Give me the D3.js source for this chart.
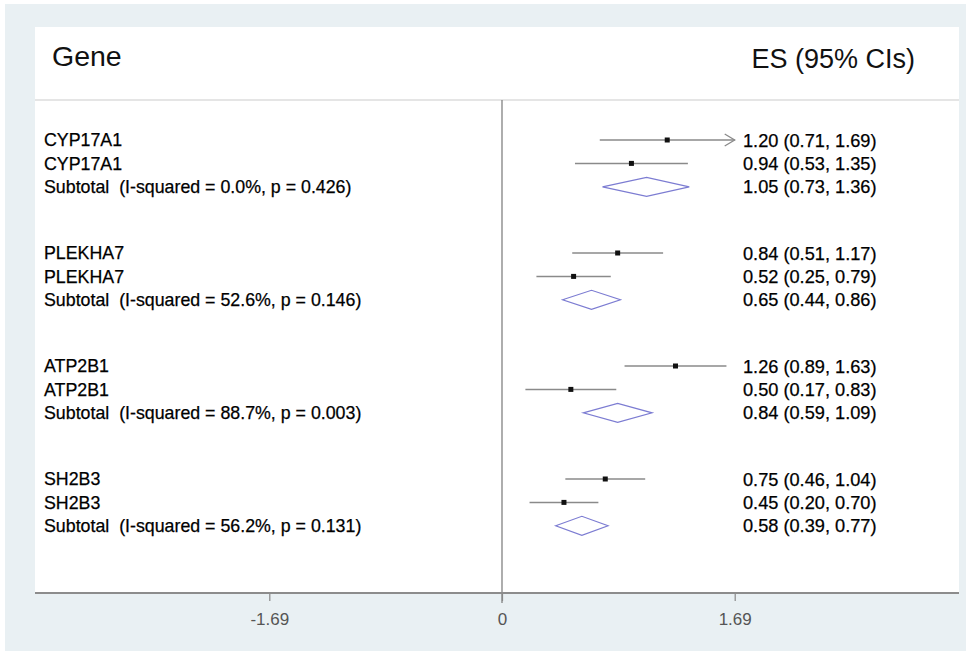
<!DOCTYPE html>
<html>
<head>
<meta charset="utf-8">
<script src="https://cdn.jsdelivr.net/npm/d3@7"></script>
<style>
  html, body { margin: 0; padding: 0; background: #ffffff; }
  svg { display: block; font-family: "Liberation Sans", Arial, sans-serif; }
</style>
</head>
<body>
<svg id="chart" width="966" height="651"></svg>
<script>
// ---------- data ----------
const genes = ["CYP17A1", "PLEKHA7", "ATP2B1", "SH2B3"];
const studyGene = ["CYP17A1", "CYP17A1", "PLEKHA7", "PLEKHA7", "ATP2B1", "ATP2B1", "SH2B3", "SH2B3"];
const studyES = [1.20, 0.94, 0.84, 0.52, 1.26, 0.50, 0.75, 0.45];
const studyLo = [0.71, 0.53, 0.51, 0.25, 0.89, 0.17, 0.46, 0.20];
const studyHi = [1.69, 1.35, 1.17, 0.79, 1.63, 0.83, 1.04, 0.70];
const subES = [1.05, 0.65, 0.84, 0.58];
const subLo = [0.73, 0.44, 0.59, 0.39];
const subHi = [1.36, 0.86, 1.09, 0.77];
const iSquared = ["0.0%", "52.6%", "88.7%", "56.2%"];
const pValues = ["0.426", "0.146", "0.003", "0.131"];
const tickValues = [-1.69, 0, 1.69];
const tickLabels = ["-1.69", "0", "1.69"];

// ---------- layout ----------
const svg = d3.select("#chart");
const W = 966, H = 651;
const panel = { x0: 35, x1: 959, y0: 27, y1: 593 };
const headerY = 100;

// outer background
svg.append("rect").attr("x", 5).attr("y", 4).attr("width", W - 5).attr("height", H - 4).attr("fill", "#e9f0f3");
svg.append("rect").attr("x", panel.x0).attr("y", panel.y0)
  .attr("width", panel.x1 - panel.x0).attr("height", panel.y1 - panel.y0).attr("fill", "#ffffff");

const x = d3.scaleLinear().domain([-1.69, 1.69]).range([269.3, 734.7]);
// row position: group index + within-group row (0,1 = studies, 2 = subtotal)
const yGroup = d3.scaleLinear().domain([0, 1]).range([140, 253]);
const rowStep = 23.4;
const yRow = (g, r) => yGroup(g) + r * rowStep;

// header
svg.append("text").attr("x", 52).attr("y", 66).attr("font-size", 28.5).attr("fill", "#111").text("Gene");
svg.append("text").attr("x", 915).attr("y", 68).attr("font-size", 27).attr("text-anchor", "end")
  .attr("fill", "#111").text("ES (95% CIs)");
svg.append("line").attr("x1", panel.x0).attr("x2", panel.x1).attr("y1", headerY).attr("y2", headerY)
  .attr("stroke", "#dcdcdc").attr("stroke-width", 1.5);

// zero line
svg.append("line").attr("x1", x(0)).attr("x2", x(0)).attr("y1", headerY).attr("y2", 603)
  .attr("stroke", "#777").attr("stroke-width", 1.2);

// axis
const axis = d3.axisBottom(x).tickValues(tickValues).tickSize(8).tickFormat((d, i) => tickLabels[i]);
const gAxis = svg.append("g").attr("transform", `translate(0,${panel.y1})`).call(axis);
gAxis.select(".domain").remove();
gAxis.selectAll(".tick line").attr("stroke", "#888").attr("stroke-width", 1.2);
gAxis.selectAll(".tick text").attr("font-size", 17).attr("fill", "#555").attr("dy", "1.25em")
  .attr("font-family", "'Liberation Sans', Arial, sans-serif");
svg.append("line").attr("x1", panel.x0).attr("x2", panel.x1).attr("y1", panel.y1).attr("y2", panel.y1)
  .attr("stroke", "#8c8c8c").attr("stroke-width", 2.2);

// ---------- rows ----------
const labelX = 44, valueX = 743;
const fs = 17.8, fsv = 18.2;
const fmt = d3.format(".2f");

// studies
const studies = studyES.map((v, i) => ({
  gene: studyGene[i], es: v, lo: studyLo[i], hi: studyHi[i],
  g: genes.indexOf(studyGene[i]), r: i % 2
}));

function label(sel, xPos, y, size, txt) {
  return sel.append("text").attr("x", xPos).attr("y", y).attr("dy", "0.36em").attr("font-size", size)
    .attr("fill", "#000").attr("stroke", "#000").attr("stroke-width", 0.25)
    .attr("xml:space", "preserve").text(txt);
}

const gS = svg.append("g");
studies.forEach(d => {
  const y = yRow(d.g, d.r);
  const truncated = d.hi >= x.domain()[1];
  gS.append("line").attr("x1", x(d.lo)).attr("x2", x(d.hi)).attr("y1", y).attr("y2", y)
    .attr("stroke", "#8a8a8a").attr("stroke-width", 1.5);
  if (truncated) {
    const xe = x(d.hi);
    gS.append("path").attr("d", `M${xe - 10},${y - 6} L${xe},${y} L${xe - 10},${y + 6}`)
      .attr("fill", "none").attr("stroke", "#8a8a8a").attr("stroke-width", 1.3);
  }
  gS.append("rect").attr("x", x(d.es) - 2.5).attr("y", y - 2.5).attr("width", 5).attr("height", 5).attr("fill", "#111");
  label(gS, labelX, y, fs, d.gene);
  label(gS, valueX, y, fsv, `${fmt(d.es)} (${fmt(d.lo)}, ${fmt(d.hi)})`);
});

// subtotals
genes.forEach((gene, g) => {
  const y = yRow(g, 2);
  const h = 9.5;
  svg.append("path")
    .attr("d", `M${x(subLo[g])},${y} L${x(subES[g])},${y - h} L${x(subHi[g])},${y} L${x(subES[g])},${y + h} Z`)
    .attr("fill", "none").attr("stroke", "#7c7cd2").attr("stroke-width", 1.2);
  label(svg, labelX, y, fs, `Subtotal  (I-squared = ${iSquared[g]}, p = ${pValues[g]})`);
  label(svg, valueX, y, fsv, `${fmt(subES[g])} (${fmt(subLo[g])}, ${fmt(subHi[g])})`);
});
</script>
</body>
</html>
